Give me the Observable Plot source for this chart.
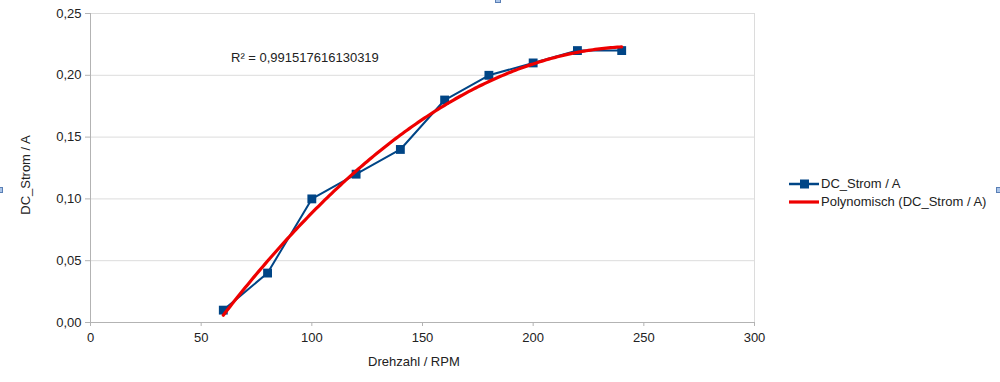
<!DOCTYPE html>
<html>
<head>
<meta charset="utf-8">
<script src="https://cdn.jsdelivr.net/npm/d3@7"></script>
<script src="https://cdn.jsdelivr.net/npm/@observablehq/plot@0.6"></script>
<style>
  html, body { margin: 0; padding: 0; background: #fff; }
  #wrap { position: relative; width: 1000px; height: 382px; font-family: "Liberation Sans", Arial, sans-serif; color: #222; }
  .lbl { position: absolute; font-size: 13px; white-space: nowrap; color: #222; }
  .handle { position: absolute; width: 6px; height: 6px; background: #aac4e8; border: 1px solid #5a7fb5; box-sizing: border-box; }
</style>
</head>
<body>
<div id="wrap"></div>
<script>
const rpm = [60, 80, 100, 120, 140, 160, 180, 200, 220, 240];
const strom = [0.01, 0.04, 0.10, 0.12, 0.14, 0.18, 0.20, 0.21, 0.22, 0.22];
const xTicks = [0, 50, 100, 150, 200, 250, 300];
const yTicks = [0, 0.05, 0.10, 0.15, 0.20, 0.25];
const seriesName = "DC_Strom / A";
const trendName = "Polynomisch (DC_Strom / A)";
const r2Label = "R² = 0,991517616130319";

const data = rpm.map((x, i) => ({x, y: strom[i]}));

// quadratic least-squares trend line (degree 2), as computed by the spreadsheet
function quadFit(xs, ys) {
  let n = xs.length, s1=0,s2=0,s3=0,s4=0,t0=0,t1=0,t2=0;
  for (let i = 0; i < n; i++) {
    const x = xs[i], y = ys[i];
    s1 += x; s2 += x*x; s3 += x*x*x; s4 += x*x*x*x;
    t0 += y; t1 += x*y; t2 += x*x*y;
  }
  const M = [[n, s1, s2, t0], [s1, s2, s3, t1], [s2, s3, s4, t2]];
  for (let c = 0; c < 3; c++) {
    for (let r = c + 1; r < 3; r++) {
      const f = M[r][c] / M[c][c];
      for (let k = c; k < 4; k++) M[r][k] -= f * M[c][k];
    }
  }
  const b = [0, 0, 0];
  for (let r = 2; r >= 0; r--) {
    let s = M[r][3];
    for (let k = r + 1; k < 3; k++) s -= M[r][k] * b[k];
    b[r] = s / M[r][r];
  }
  return b;
}
const [a0, a1, a2] = quadFit(rpm, strom);
const trend = d3.range(rpm[0], rpm[rpm.length - 1] + 0.5, 1).map(x => ({x, y: a0 + a1 * x + a2 * x * x}));

const fmt = d => d.toFixed(2).replace(".", ",");

const chart = Plot.plot({
  width: 1000,
  height: 382,
  marginLeft: 90,
  marginRight: 246,
  marginTop: 13,
  marginBottom: 60,
  style: {fontFamily: "Liberation Sans, Arial, sans-serif", fontSize: "13px", color: "#222", background: "transparent"},
  x: {domain: [0, 300]},
  y: {domain: [0, 0.25]},
  marks: [
    Plot.gridY(yTicks, {stroke: "#dcdcdc", strokeOpacity: 1}),
    Plot.ruleX([300], {stroke: "#dcdcdc"}),
    Plot.ruleX([0], {stroke: "#b3b3b3"}),
    Plot.ruleY([0], {stroke: "#b3b3b3"}),
    Plot.axisY({ticks: yTicks, tickFormat: fmt, tickSize: 5, tickPadding: 4, stroke: "#b3b3b3", label: null, fill: "#222", fontSize: 13}),
    Plot.axisX({ticks: xTicks, tickFormat: d => String(d), tickSize: 4, tickPadding: 6, stroke: "#b3b3b3", label: null, fill: "#222", fontSize: 13}),
    Plot.line(data, {x: "x", y: "y", stroke: "#004586", strokeWidth: 2}),
    Plot.dot(data, {x: "x", y: "y", symbol: "square", r: 5, fill: "#004586", stroke: "none"}),
    Plot.line(trend, {x: "x", y: "y", stroke: "#ee0000", strokeWidth: 3.2, curve: "linear"})
  ]
});

const wrap = document.getElementById("wrap");
wrap.appendChild(chart);
chart.style.position = "absolute";
chart.style.left = "0px";
chart.style.top = "0px";

function addLabel(text, left, top, extra) {
  const d = document.createElement("div");
  d.className = "lbl";
  d.textContent = text;
  d.style.left = left + "px";
  d.style.top = top + "px";
  if (extra) Object.assign(d.style, extra);
  wrap.appendChild(d);
  return d;
}

// axis titles
addLabel("Drehzahl / RPM", 368, 354);
addLabel("DC_Strom / A", 25, 175, {transform: "translate(-50%, -50%) rotate(-90deg)", transformOrigin: "center"});
// R² label
addLabel(r2Label, 231, 50);

// legend
const leg = document.createElementNS("http://www.w3.org/2000/svg", "svg");
leg.setAttribute("width", "40"); leg.setAttribute("height", "40");
leg.style.position = "absolute"; leg.style.left = "785px"; leg.style.top = "170px";
leg.innerHTML = `
  <line x1="4" x2="34" y1="14" y2="14" stroke="#004586" stroke-width="2.5"/>
  <rect x="15" y="9.5" width="9" height="9" fill="#004586"/>
  <line x1="4" x2="34" y1="32" y2="32" stroke="#ee0000" stroke-width="3.2"/>`;
wrap.appendChild(leg);
addLabel(seriesName, 821, 176);
addLabel(trendName, 821, 194);

// selection handles
[[495, -3], [-3, 187], [996, 187]].forEach(([l, t]) => {
  const h = document.createElement("div");
  h.className = "handle";
  h.style.left = l + "px"; h.style.top = t + "px";
  wrap.appendChild(h);
});
</script>
</body>
</html>
